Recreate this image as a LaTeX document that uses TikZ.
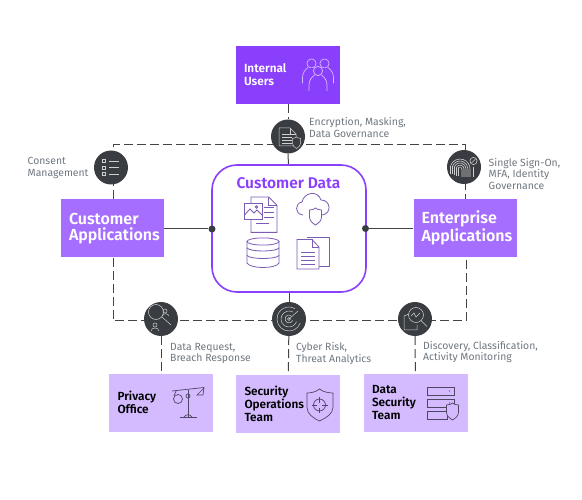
\documentclass[tikz,border=0pt]{standalone}
\usepackage{fontspec}
\setmainfont[BoldFont={Fira Sans SemiBold}]{Fira Sans}
\usepackage{xcolor}
\usepackage{tikz}
\usetikzlibrary{backgrounds}
\definecolor{deepPurple}{HTML}{8A3FFC}
\definecolor{midPurple}{HTML}{A56EFF}
\definecolor{palePurple}{HTML}{D4BBFF}
\definecolor{hubDark}{HTML}{393C40}
\definecolor{noteGray}{HTML}{6F7780}
\definecolor{linkGray}{HTML}{444444}
\definecolor{dataIcon}{HTML}{7B5CB5}
\definecolor{teamIcon}{HTML}{4F4665}
\definecolor{hubIcon}{HTML}{D0D0D0}
\tikzset{
  appbox/.style={fill=midPurple,text=white,font=\fontsize{16}{16}\selectfont\bfseries,
                 minimum width=103pt,minimum height=58pt,align=left,text width=87pt,inner sep=0pt},
  userbox/.style={fill=deepPurple,text=white,font=\fontsize{11.8}{13}\selectfont\bfseries,
                 minimum width=104pt,minimum height=58pt,align=left,text width=88pt,inner sep=0pt},
  teambox/.style={fill=palePurple,text=black,font=\fontsize{11.8}{13}\selectfont\bfseries,
                 minimum width=104pt,minimum height=58pt,align=left,text width=87pt,inner sep=0pt},
  databox/.style={draw=deepPurple,fill=white,line width=1.6pt,rounded corners=25pt,
                 minimum width=154pt,minimum height=127pt,inner sep=0pt},
  hub/.style={circle,fill=hubDark,minimum size=34pt,inner sep=0pt},
  joint/.style={circle,fill=hubDark,minimum size=7pt,inner sep=0pt},
  note/.style={anchor=west,text=noteGray,font=\fontsize{10.4}{11.6}\selectfont,align=left,inner sep=0pt},
  dashlink/.style={draw=linkGray,line width=1pt,dash pattern=on 9pt off 4pt},
  solidlink/.style={draw=linkGray,line width=1pt},
  hubline/.style={draw=hubIcon,line width=0.5pt},
  dataline/.style={draw=dataIcon,line width=0.8pt},
  teamline/.style={draw=teamIcon,line width=0.7pt},
  userline/.style={draw=palePurple,line width=0.7pt},
  % one person, head at the origin
  person/.pic={
    \draw[userline] (0,0) circle (4.6);
    \draw[userline] (-9,20) -- (-9,14) .. controls (-9,9) and (-6,6) .. (-3.5,4);
    \draw[userline] (9,20) -- (9,14) .. controls (9,9) and (6,6) .. (3.5,4);
  },
  % shield, top centre at the origin
  guard/.pic={
    \path[pic actions] (-6,2) .. controls (-3,2) and (-1,1) .. (0,0)
      .. controls (1,1) and (3,2) .. (6,2) -- (6,9)
      .. controls (6,13) and (3,15) .. (0,17) .. controls (-3,15) and (-6,13) .. (-6,9) -- cycle;
  },
  % page with a folded corner, top left at the origin
  page/.pic={
    \path[pic actions] (0,0) -- (15,0) -- (22,7) -- (22,30) -- (0,30) -- cycle;
    \path[pic actions] (15,0) -- (15,7) -- (22,7);
  }
}
\begin{document}
\begin{tikzpicture}[x=1pt,y=-1pt]
\useasboundingbox (0,0) rectangle (582,500);
% boxes
\node[userbox] (internalUsers) at (288,75) {Internal\\Users};
\node[appbox] (custApp) at (112.5,228.5) {Customer\\Applications};
\node[appbox] (entApp) at (465,228) {Enterprise\\Applications};
\node[databox] (custData) at (289,228.5) {};
\node[teambox] (privacyOffice) at (161,402.5) {Privacy\\Office};
\node[teambox] (secOps) at (288,404) {Security\\Operations\\Team};
\node[teambox] (dataSec) at (415.5,403) {Data\\Security\\Team};
% hubs
\node[hub] (encHub) at (288,136.5) {};
\node[hub] (consentHub) at (111,167.5) {};
\node[hub] (ssoHub) at (464,167) {};
\node[hub] (requestHub) at (161,319) {};
\node[hub] (riskHub) at (289,319) {};
\node[hub] (discoverHub) at (415,319) {};
\node[joint] (jointL) at (212,229) {};
\node[joint] (jointR) at (365.5,228.5) {};
\coordinate (cornerTL) at (113.5,145);
\coordinate (cornerTR) at (465,145);
\coordinate (cornerBL) at (113.5,321);
\coordinate (cornerBR) at (466,321);
\coordinate (midB) at (289,321);
% links
\begin{scope}[on background layer]
\draw[dashlink] (custApp.north-|cornerTL) -- (cornerTL) -- (cornerTR) -- (entApp.north-|cornerTR);
\draw[dashlink] (custApp.south-|cornerBL) -- (cornerBL) -- (cornerBR) -- (entApp.south-|cornerBR);
\draw[dashlink] (internalUsers) -- (encHub);
\draw[dashlink] (requestHub) -- (privacyOffice);
\draw[dashlink] (riskHub) -- (secOps);
\draw[dashlink] (discoverHub) -- (dataSec);
\draw[solidlink] (encHub) -- (custData);
\draw[solidlink] (custData) -- (midB);
\draw[solidlink] (custApp.east|-jointL) -- (jointL);
\draw[solidlink] (entApp.west|-jointR) -- (jointR);
\end{scope}
% notes
\node[note] (encNote) at (309,127.5) {Encryption, Masking,\\Data Governance};
\node[note] (consentNote) at (27.5,168) {Consent\\Management};
\node[note] (ssoNote) at (488.5,174) {Single Sign-On,\\MFA, Identity\\Governance};
\node[note] (requestNote) at (170,353.5) {Data Request,\\Breach Response};
\node[note] (riskNote) at (296,353.5) {Cyber Risk,\\Threat Analytics};
\node[note] (discoverNote) at (423,352) {Discovery, Classification,\\Activity Monitoring};
\node[text=deepPurple,font=\fontsize{15.5}{16}\selectfont\bfseries,inner sep=0pt] (dataTitle) at (288.5,183) {Customer Data};
% users icon
\pic at (311.5,63.5) {person};
\pic at (324.5,63.5) {person};
\fill[deepPurple] (310,68) rectangle (326,92);
\pic at (318,71) {person};
% customer data icons
\begin{scope}[dataline]
\pic[dataline,scale=1.18] at (251,197) {page};
\filldraw[fill=white] (244.5,203) rectangle (262,219);
\draw (244.5,215) -- (250,209) -- (254,213) -- (257,210) -- (262,215);
\draw (256.5,207) circle (1.3);
\foreach \yy in {207,212,217} \draw (264,\yy) -- (274,\yy);
\draw (256,223) -- (269,223);
\draw (303,215) .. controls (294,214) and (295,203) .. (302,202)
  .. controls (304,192) and (318,190) .. (321,200)
  .. controls (331,200) and (332,214) .. (322,215);
\pic[dataline,fill=white,scale=1] at (315.5,208) {guard};
\draw (263,241.5) ellipse (16 and 3.6);
\draw (247,241.5) -- (247,248) .. controls (250,252) and (276,252) .. (279,248) -- (279,241.5);
\draw (247,248) -- (247,255.5) .. controls (250,259.5) and (276,259.5) .. (279,255.5) -- (279,248);
\draw (247,255.5) -- (247,263) .. controls (250,269) and (276,269) .. (279,263) -- (279,255.5);
\draw (307,237) -- (329,237) -- (329,266) -- (319,266);
\filldraw[fill=white] (297,239.5) -- (312,239.5) -- (319,247) -- (319,269) -- (297,269) -- cycle;
\draw (312,239.5) -- (312,247) -- (319,247);
\foreach \yy in {252,256,260,264} \draw (301,\yy) -- (315,\yy);
\end{scope}
% encryption hub icon
\begin{scope}[hubline]
\draw (279,128) -- (290,128) -- (296,134) -- (296,146) -- (279,146) -- cycle;
\draw (290,128) -- (290,134) -- (296,134);
\foreach \yy in {134,137,140,143} \draw (282,\yy) -- (292,\yy);
\pic[hubline,fill=hubDark,scale=.68] at (296.5,137) {guard};
\end{scope}
% consent hub icon
\begin{scope}[hubline]
\foreach \yy in {161,167.5,174}{
  \draw (102.5,\yy-1.5) rectangle (105.5,\yy+1.5);
  \draw (109,\yy) -- (119,\yy);
}
\end{scope}
% fingerprint hub icon
\begin{scope}[hubline,line width=.6pt]
\foreach \rr in {2,4,6,8,10}{
  \draw (460,169) ++(200:\rr) arc (200:360:\rr) -- ++(0,8);
  \draw (460,169) ++(200:\rr) -- ++(0,8);
}
\draw (473.5,161) circle (3.6);
\draw (471.5,163) -- (475.5,159);
\draw (473,167) -- (473,177);
\end{scope}
% request hub icon
\begin{scope}[hubline]
\draw (156,312) circle (7.5);
\draw (162,317) -- (171,325);
\draw (165,311) circle (2);
\draw (162,316) .. controls (163,313) and (168,313) .. (169,316);
\draw (155,325) circle (2);
\draw (151,331) .. controls (151,327) and (159,327) .. (159,331);
\end{scope}
% risk hub icon
\begin{scope}[hubline]
\foreach \rr in {4,8,12} \draw (289,319) ++(20:\rr) arc (20:300:\rr);
\draw (289,319) circle (1.5);
\draw (289,319) -- (298,311);
\end{scope}
% discover hub icon
\begin{scope}[hubline]
\draw (409,314) -- (404,316) -- (404,330) -- (417,330) -- (417,325);
\draw (416,315) circle (7.5);
\draw (421,320.5) -- (427,326.5);
\draw (411,316) -- (414,313) -- (416,317) -- (420,313);
\end{scope}
% scale icon
\begin{scope}[teamline]
\draw (172,391) -- (204,387.5);
\draw (188,390) -- (188,417);
\draw (180,417) -- (197,417);
\draw (184,417) .. controls (186,414) and (190,414) .. (192,417);
\draw (188,396) circle (2);
\draw (178,399) circle (4.5);
\draw (174,396) -- (176,391);
\draw (197,395) -- (204,388) -- (203,395) -- cycle;
\end{scope}
% target shield icon
\begin{scope}[teamline]
\draw (319.5,389) .. controls (323,392) and (329,393) .. (333,393) -- (333,407)
  .. controls (333,414) and (326,418) .. (319.5,421)
  .. controls (313,418) and (307,414) .. (307,407) -- (307,393)
  .. controls (311,393) and (316,392) .. (319.5,389) -- cycle;
\draw (319.5,405) circle (6);
\draw (311.5,405) -- (317,405);
\draw (322,405) -- (328,405);
\draw (319.5,397) -- (319.5,402.5);
\draw (319.5,407.5) -- (319.5,413);
\end{scope}
% server shield icon
\begin{scope}[teamline]
\draw (427,387) rectangle (454,395);
\draw (427,399) rectangle (454,407);
\draw (427,411) rectangle (447,419);
\fill[teamIcon] (449.5,391) circle (.7);
\fill[teamIcon] (449.5,403) circle (.7);
\pic[teamline,fill=palePurple,scale=1] at (452.5,403) {guard};
\end{scope}
\end{tikzpicture}
\end{document}
